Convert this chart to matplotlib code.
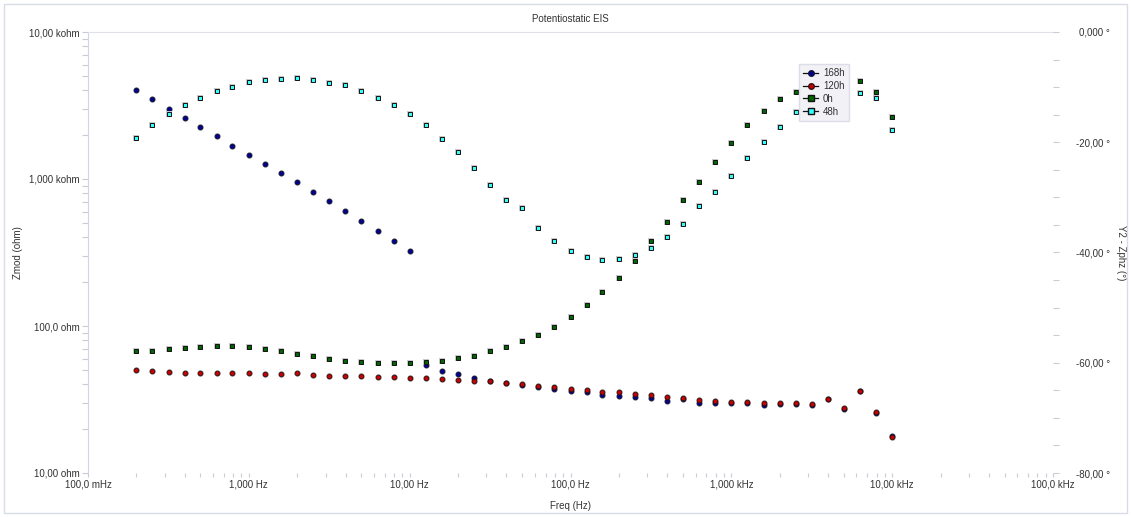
import matplotlib
matplotlib.use("Agg")
import matplotlib.pyplot as plt
from matplotlib.lines import Line2D
from matplotlib.patches import Rectangle
from matplotlib.ticker import FixedLocator, FixedFormatter, NullFormatter

plt.rcParams['font.family'] = ['Liberation Sans', 'DejaVu Sans']

# Frequency points (Hz), 10 points per decade
freq = [0.2, 0.25, 0.32, 0.40, 0.50, 0.63, 0.79, 1.0, 1.26, 1.58,
        2.0, 2.51, 3.16, 3.98, 5.01, 6.31, 7.94, 10.0, 12.6, 15.8,
        20.0, 25.1, 31.6, 39.8, 50.1, 63.1, 79.4, 100.0, 126.0, 158.0,
        200.0, 251.0, 316.0, 398.0, 501.0, 631.0, 794.0, 1000.0, 1259.0, 1585.0,
        1995.0, 2512.0, 3162.0, 3981.0, 5012.0, 6310.0, 7943.0, 10000.0]

# |Z| (ohm)
zmod_168h = [4030, 3485, 2980, 2588, 2248, 1952, 1685, 1463, 1271, 1099,
             955, 816, 705, 606, 516, 441, 377, 322, 54.3, 49.6,
             47.1, 44.5, 42.1, 40.9, 39.7, 38.5, 37.3, 36.1, 35.4, 34.0,
             33.6, 32.9, 32.2, 31.0, 31.7, 29.8, 29.8, 29.8, 29.8, 29.0,
             29.5, 29.5, 29.0, 31.7, 27.4, 36.1, 25.5, 17.8]
zmod_120h = [50.4, 49.6, 48.9, 48.1, 47.7, 47.7, 47.7, 47.7, 46.9, 46.9,
             47.7, 46.4, 45.5, 45.5, 45.5, 45.0, 45.0, 44.3, 44.3, 43.6,
             42.9, 42.5, 42.1, 41.1, 40.1, 39.2, 38.3, 37.4, 36.7, 35.7,
             35.4, 34.3, 33.8, 32.9, 32.2, 31.4, 30.7, 30.3, 30.3, 29.8,
             29.8, 29.8, 29.3, 31.7, 27.7, 36.3, 26.1, 17.5]

# Phase (degrees)
zphz_0h = [-57.8, -57.8, -57.5, -57.3, -57.1, -57.0, -57.0, -57.1, -57.5, -57.9,
           -58.5, -58.8, -59.3, -59.6, -59.8, -60.0, -60.0, -60.1, -59.9, -59.6,
           -59.1, -58.8, -57.9, -57.1, -56.1, -55.0, -53.5, -51.7, -49.5, -47.2,
           -44.6, -41.6, -38.0, -34.5, -30.4, -27.2, -23.6, -20.1, -16.8, -14.3,
           -12.2, -10.9, -10.2, -9.4, -8.9, -8.9, -10.9, -15.4]
zphz_48h = [-19.3, -16.9, -14.9, -13.3, -11.9, -10.7, -9.9, -9.0, -8.7, -8.5,
            -8.3, -8.7, -9.2, -9.7, -10.7, -11.9, -13.3, -14.8, -16.9, -19.4,
            -21.8, -24.6, -27.7, -30.5, -32.0, -35.6, -38.0, -39.8, -40.9, -41.4,
            -41.2, -40.5, -39.1, -37.1, -34.8, -31.6, -29.0, -26.1, -22.9, -20.0,
            -17.3, -14.5, -13.1, -12.0, -11.3, -11.0, -12.0, -17.8]

series_labels = ['168h', '120h', '0h', '48h']

x_ticks = [0.1, 1, 10, 100, 1000, 10000, 100000]
x_ticklabels = ['100,0 mHz', '1,000 Hz', '10,00 Hz', '100,0 Hz', '1,000 kHz', '10,00 kHz', '100,0 kHz']
y_ticks = [10, 100, 1000, 10000]
y_ticklabels = ['10,00 ohm', '100,0 ohm', '1,000 kohm', '10,00 kohm']
y2_ticks = [-80, -60, -40, -20, 0]
y2_ticklabels = ['-80,00 °', '-60,00 °', '-40,00 °', '-20,00 °', '0,000 °']

W, H = 1131, 517
fig = plt.figure(figsize=(W / 100, H / 100), dpi=100)
fig.patch.set_facecolor('white')

# outer frame
fig.patches.append(Rectangle((4 / W, 4 / H), 1123 / W, 509 / H, transform=fig.transFigure,
                             fill=False, edgecolor='#d9dce6', linewidth=1.0))

L, R, T, B = 88, 1053, 32, 473
ax = fig.add_axes([L / W, (H - B) / H, (R - L) / W, (B - T) / H])
ax.set_xscale('log')
ax.set_yscale('log')
ax.set_xlim(0.1, 1e5)
ax.set_ylim(10, 1e4)

ax2 = ax.twinx()
ax2.set_ylim(-80, 0)

text_col = '#333333'
tick_col = '#c9ccd6'
fs = 7

for sp in ['right', 'bottom']:
    ax.spines[sp].set_visible(False)
ax.spines['left'].set_color('#d3d6e0')
ax.spines['top'].set_color('#dfe2ea')
for sp in ax2.spines.values():
    sp.set_visible(False)

ax.xaxis.set_major_locator(FixedLocator(x_ticks))
ax.xaxis.set_major_formatter(FixedFormatter(x_ticklabels))
ax.xaxis.set_minor_formatter(NullFormatter())
ax.yaxis.set_major_locator(FixedLocator(y_ticks))
ax.yaxis.set_major_formatter(FixedFormatter(y_ticklabels))
ax.yaxis.set_minor_formatter(NullFormatter())
ax.tick_params(axis='both', which='both', direction='out', color=tick_col,
               labelcolor=text_col, labelsize=fs, width=0.8)
ax.tick_params(axis='x', which='both', length=3, pad=2)
ax.tick_params(axis='y', which='both', length=4, pad=2)

ax2.yaxis.set_major_locator(FixedLocator(y2_ticks))
ax2.yaxis.set_minor_locator(FixedLocator(list(range(-75, 0, 5))))
ax2.yaxis.set_major_formatter(FixedFormatter(y2_ticklabels))
ax2.tick_params(axis='y', which='both', direction='out', color=tick_col,
                labelcolor=text_col, labelsize=fs, length=4, width=0.8, pad=37)
for lbl in ax2.get_yticklabels():
    lbl.set_horizontalalignment('right')

ms = 3.4
mew = 0.7
halo = '#c8c8c8'

def scatter(axis, y, marker, face, edge):
    axis.plot(freq, y, linestyle='none', marker=marker, markersize=ms + 1.3,
              markerfacecolor=halo, markeredgecolor=halo, markeredgewidth=0, zorder=2)
    axis.plot(freq, y, linestyle='none', marker=marker, markersize=ms,
              markerfacecolor=face, markeredgecolor=edge, markeredgewidth=mew, zorder=3)

scatter(ax, zmod_168h, 'o', '#000099', '#111133')
scatter(ax, zmod_120h, 'o', '#cc0000', '#331111')
scatter(ax2, zphz_0h, 's', '#006600', '#111111')
scatter(ax2, zphz_48h, 's', '#33ffff', '#111111')

ax.set_xlabel('Freq (Hz)', fontsize=fs, color=text_col, labelpad=8)
ax.set_ylabel('Zmod (ohm)', fontsize=fs, color=text_col)
ax2.set_ylabel('Y2 - Zphz (°)', fontsize=fs, color=text_col, rotation=270)
ax2.yaxis.set_label_coords((1126 - L) / (R - L), 0.5)
ax.yaxis.set_label_coords((23 - L) / (R - L), 0.5)
ax.set_title('Potentiostatic EIS', fontsize=fs, color=text_col, pad=7)

handles = [
    Line2D([], [], color='#111111', lw=0.9, marker='o', markersize=ms + 0.6,
           markerfacecolor='#000099', markeredgecolor='#111133'),
    Line2D([], [], color='#111111', lw=0.9, marker='o', markersize=ms + 0.6,
           markerfacecolor='#cc0000', markeredgecolor='#331111'),
    Line2D([], [], color='#111111', lw=0.9, marker='s', markersize=ms + 0.6,
           markerfacecolor='#006600', markeredgecolor='#111111'),
    Line2D([], [], color='#111111', lw=0.9, marker='s', markersize=ms + 0.6,
           markerfacecolor='#33ffff', markeredgecolor='#111111'),
]
leg = ax2.legend(handles, series_labels, loc='upper left',
                 bbox_to_anchor=((799 - L) / (R - L), (B - 64) / (B - T)),
                 fontsize=fs, frameon=True, fancybox=False, framealpha=1.0,
                 borderpad=0.45, labelspacing=0.28, handlelength=1.5,
                 handletextpad=0.5, borderaxespad=0, labelcolor=text_col)
leg.get_frame().set_facecolor('#f1f1f6')
leg.get_frame().set_edgecolor('#dcdde6')
leg.get_frame().set_linewidth(1.0)
leg.set_zorder(10)

fig.savefig('out.png', dpi=100)
